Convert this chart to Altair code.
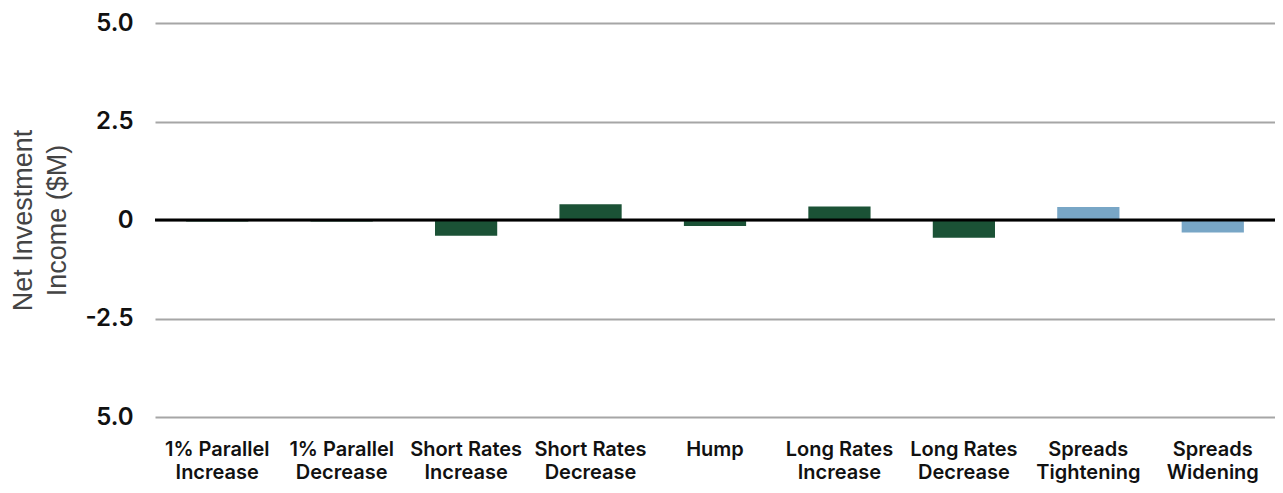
import altair as alt
import pandas as pd

categories = [
    "1% Parallel\nIncrease",
    "1% Parallel\nDecrease",
    "Short Rates\nIncrease",
    "Short Rates\nDecrease",
    "Hump",
    "Long Rates\nIncrease",
    "Long Rates\nDecrease",
    "Spreads\nTightening",
    "Spreads\nWidening",
]
values = [-0.04, -0.04, -0.40, 0.40, -0.15, 0.34, -0.45, 0.33, -0.32]
groups = ["Rates"] * 7 + ["Spreads"] * 2
group_names = ["Rates", "Spreads"]
group_colors = ["#1b5236", "#78a6c6"]
tick_values = [5, 2.5, 0, -2.5, -5]
tick_labels = ["5.0", "2.5", "0", "-2.5", "5.0"]

df = pd.DataFrame({"scenario": categories, "value": values, "group": groups})

label_expr = " : ".join(
    f"datum.value == {v} ? '{t}'" for v, t in zip(tick_values, tick_labels)
) + " : ''"

FONT = "Inter"

base = alt.Chart(df)

bars = base.mark_bar().encode(
    x=alt.X(
        "scenario:N",
        sort=categories,
        scale=alt.Scale(paddingInner=0.5, paddingOuter=0.25),
        axis=alt.Axis(
            title=None,
            labelAngle=0,
            labelExpr="split(datum.label, '\\n')",
            labelFont=FONT,
            labelFontSize=20,
            labelFontWeight=600,
            labelColor="#111111",
            labelLineHeight=23,
            labelPadding=22,
            ticks=False,
            domain=False,
            labelBaseline="top",
        ),
    ),
    y=alt.Y(
        "value:Q",
        scale=alt.Scale(domain=[-5, 5], nice=False, zero=True),
        axis=alt.Axis(
            title=["Net Investment", "Income ($M)"],
            values=tick_values,
            labelExpr=label_expr,
            labelFont=FONT,
            labelFontSize=24,
            labelFontWeight=600,
            labelColor="#111111",
            labelPadding=22,
            ticks=False,
            domain=False,
            grid=True,
            gridColor="#a6a6a6",
            gridWidth=2,
            titleFont="Liberation Sans",
            titleFontSize=27,
            titleFontWeight="normal",
            titleColor="#444444",
            titleLineHeight=34,
            titleAngle=-90,
            titleAlign="center",
            titleBaseline="bottom",
            titleX=-118,
            titleY=197,
        ),
    ),
    color=alt.Color(
        "group:N",
        scale=alt.Scale(domain=group_names, range=group_colors),
        legend=None,
    ),
)

zero = alt.Chart(pd.DataFrame({"y": [0]})).mark_rule(color="#000000", strokeWidth=3).encode(
    y=alt.Y("y:Q")
)

chart = (
    alt.layer(bars, zero)
    .properties(
        width=1120,
        height=394,
        autosize=alt.AutoSizeParams(type="none"),
        padding={"left": 147, "top": 15, "right": 0, "bottom": 67},
    )
    .configure_view(stroke=None)
)

chart.save("out.html", embed_options={"renderer": "svg", "actions": False})
